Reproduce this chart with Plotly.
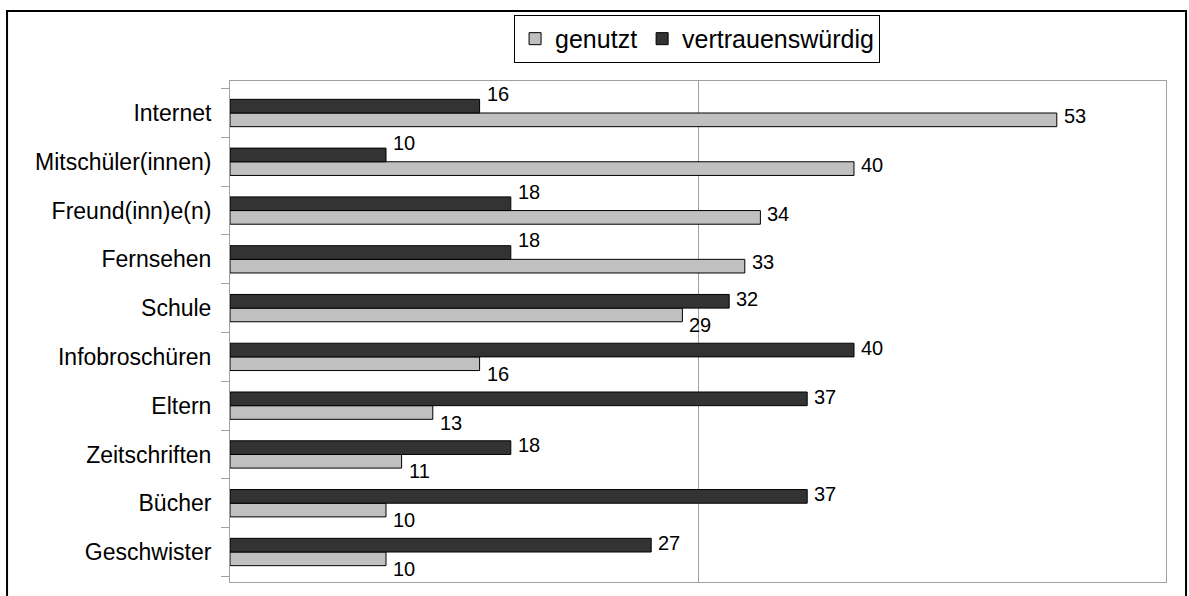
import plotly.graph_objects as go

# data, top to bottom as in the chart
categories = ["Internet", "Mitschüler(innen)", "Freund(inn)e(n)", "Fernsehen", "Schule",
              "Infobroschüren", "Eltern", "Zeitschriften", "Bücher", "Geschwister"]
genutzt = [53, 40, 34, 33, 29, 16, 13, 11, 10, 10]
vertrauenswuerdig = [16, 10, 18, 18, 32, 40, 37, 18, 37, 27]

LIGHT = "#c0c0c0"
DARK = "#333333"
FONT = "Liberation Sans, Arial, Helvetica, sans-serif"

# plotly draws categories bottom-up, so feed them reversed
cats = categories[::-1]
g_vals = genutzt[::-1]
v_vals = vertrauenswuerdig[::-1]

fig = go.Figure()
fig.add_trace(go.Bar(
    y=cats, x=g_vals, orientation="h", name="genutzt",
    marker=dict(color=LIGHT, line=dict(color="#000000", width=1)),
    hoverinfo="x+y",
))
fig.add_trace(go.Bar(
    y=cats, x=v_vals, orientation="h", name="vertrauenswürdig",
    marker=dict(color=DARK, line=dict(color="#000000", width=1)),
    hoverinfo="x+y",
))

# value labels to the right of each bar, nudged apart like the original
annotations = []
for c, g, v in zip(cats, g_vals, v_vals):
    annotations.append(dict(
        x=v, y=c, xref="x", yref="y", text=str(v), showarrow=False,
        xanchor="left", yanchor="middle", xshift=5,
        yshift=19 if v < g else 9,
        font=dict(family=FONT, size=20, color="#000000"),
    ))
    annotations.append(dict(
        x=g, y=c, xref="x", yref="y", text=str(g), showarrow=False,
        xanchor="left", yanchor="middle", xshift=5,
        yshift=-17 if g < v else -3,
        font=dict(family=FONT, size=20, color="#000000"),
    ))

fig.update_layout(
    width=1189,
    height=596,
    barmode="group",
    bargap=0.44,
    bargroupgap=0,
    plot_bgcolor="#ffffff",
    paper_bgcolor="#ffffff",
    font=dict(family=FONT, size=23, color="#000000"),
    margin=dict(l=230, r=23, t=81, b=14),
    showlegend=True,
    legend=dict(
        orientation="h",
        x=0.499, y=1.084, xanchor="center", yanchor="middle",
        bordercolor="#000000", borderwidth=1,
        font=dict(family=FONT, size=25),
        itemwidth=30,
        tracegroupgap=0,
        valign="middle",
    ),
    annotations=annotations,
    shapes=[dict(
        type="rect", xref="paper", yref="paper",
        x0=-0.2382, x1=1.0214, y0=-0.05, y1=1.1397,
        line=dict(color="#000000", width=2),
    )],
)

fig.update_xaxes(
    range=[0, 60],
    dtick=30,
    showticklabels=False,
    showgrid=True,
    gridcolor="#a0a0a0",
    gridwidth=1,
    zeroline=False,
    showline=True,
    linecolor="#a0a0a0",
    mirror=True,
    ticks="",
)
fig.update_yaxes(
    showline=True,
    linecolor="#a0a0a0",
    linewidth=1,
    mirror=True,
    ticks="outside",
    tickson="boundaries",
    ticklen=8,
    tickcolor="#a0a0a0",
    showgrid=False,
    ticklabelstandoff=13,
    tickfont=dict(family=FONT, size=23),
)

# page body has a default 8px margin; drop it so the figure fills the window
fig.write_html(
    "out.html",
    config={"displayModeBar": False},
    post_script="document.body.style.margin='0';",
)
